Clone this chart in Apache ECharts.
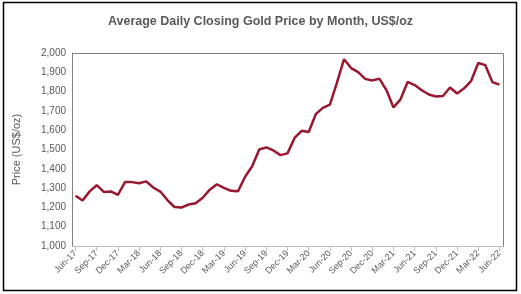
<!DOCTYPE html>
<html><head><meta charset="utf-8">
<script src="https://cdn.jsdelivr.net/npm/echarts@6/dist/echarts.min.js"></script>
<style>html,body{margin:0;padding:0;background:#fff}#c{width:521px;height:294px}</style>
</head><body><div id="c"></div>
<script>
const months = ['Jun-17','Jul-17','Aug-17','Sep-17','Oct-17','Nov-17','Dec-17',
'Jan-18','Feb-18','Mar-18','Apr-18','May-18','Jun-18','Jul-18','Aug-18','Sep-18','Oct-18','Nov-18','Dec-18',
'Jan-19','Feb-19','Mar-19','Apr-19','May-19','Jun-19','Jul-19','Aug-19','Sep-19','Oct-19','Nov-19','Dec-19',
'Jan-20','Feb-20','Mar-20','Apr-20','May-20','Jun-20','Jul-20','Aug-20','Sep-20','Oct-20','Nov-20','Dec-20',
'Jan-21','Feb-21','Mar-21','Apr-21','May-21','Jun-21','Jul-21','Aug-21','Sep-21','Oct-21','Nov-21','Dec-21',
'Jan-22','Feb-22','Mar-22','Apr-22','May-22','Jun-22'];
const goldPrice = [1260,1236,1283,1315,1280,1283,1265,
1331,1331,1325,1335,1303,1282,1238,1202,1199,1215,1221,1250,
1292,1320,1301,1286,1284,1359,1413,1500,1511,1495,1471,1480,
1560,1597,1591,1683,1716,1732,1846,1968,1922,1901,1866,1858,
1867,1808,1718,1760,1850,1834,1807,1785,1775,1777,1821,1790,
1817,1856,1948,1937,1849,1836];
const chart = echarts.init(document.getElementById('c'));
const grey = '#595959';
chart.setOption({
  animation:false,
  title:{text:'Average Daily Closing Gold Price by Month, US$/oz',left:'center',top:10,
    textStyle:{fontFamily:'Liberation Sans, Arial',fontSize:12.5,fontWeight:'bold',color:grey}},
  graphic:[{type:'rect',shape:{x:3.5,y:2.5,width:513,height:288},style:{fill:null,stroke:'#000',lineWidth:1.5},z:-1},
           {type:'rect',shape:{x:72.5,y:53.5,width:431,height:193},style:{fill:null,stroke:'#808080',lineWidth:1},z:0}],
  grid:{left:72,right:18,top:53,bottom:48},
  xAxis:{type:'category',data:months,boundaryGap:true,
    axisLine:{lineStyle:{color:'#bfbfbf'}},
    axisTick:{show:true,interval:(i)=>i%3===0,alignWithLabel:true,lineStyle:{color:'#bfbfbf'}},
    axisLabel:{interval:(i)=>i%3===0,rotate:45,fontSize:9,color:grey,fontFamily:'Liberation Sans, Arial',margin:6}},
  yAxis:{type:'value',min:1000,max:2000,interval:100,name:'Price (US$/oz)',nameLocation:'middle',nameGap:50,
    nameTextStyle:{fontSize:11,color:grey,fontFamily:'Liberation Sans, Arial'},
    axisLine:{show:true,lineStyle:{color:'#808080'}},axisTick:{show:false},splitLine:{show:false},
    axisLabel:{fontSize:10,color:grey,fontFamily:'Liberation Sans, Arial',margin:6,
      formatter:v=>v.toLocaleString('en-US')}},
  series:[{type:'line',data:goldPrice,symbol:'none',lineStyle:{color:'#9a1730',width:2.5}}]
});
</script></body></html>
